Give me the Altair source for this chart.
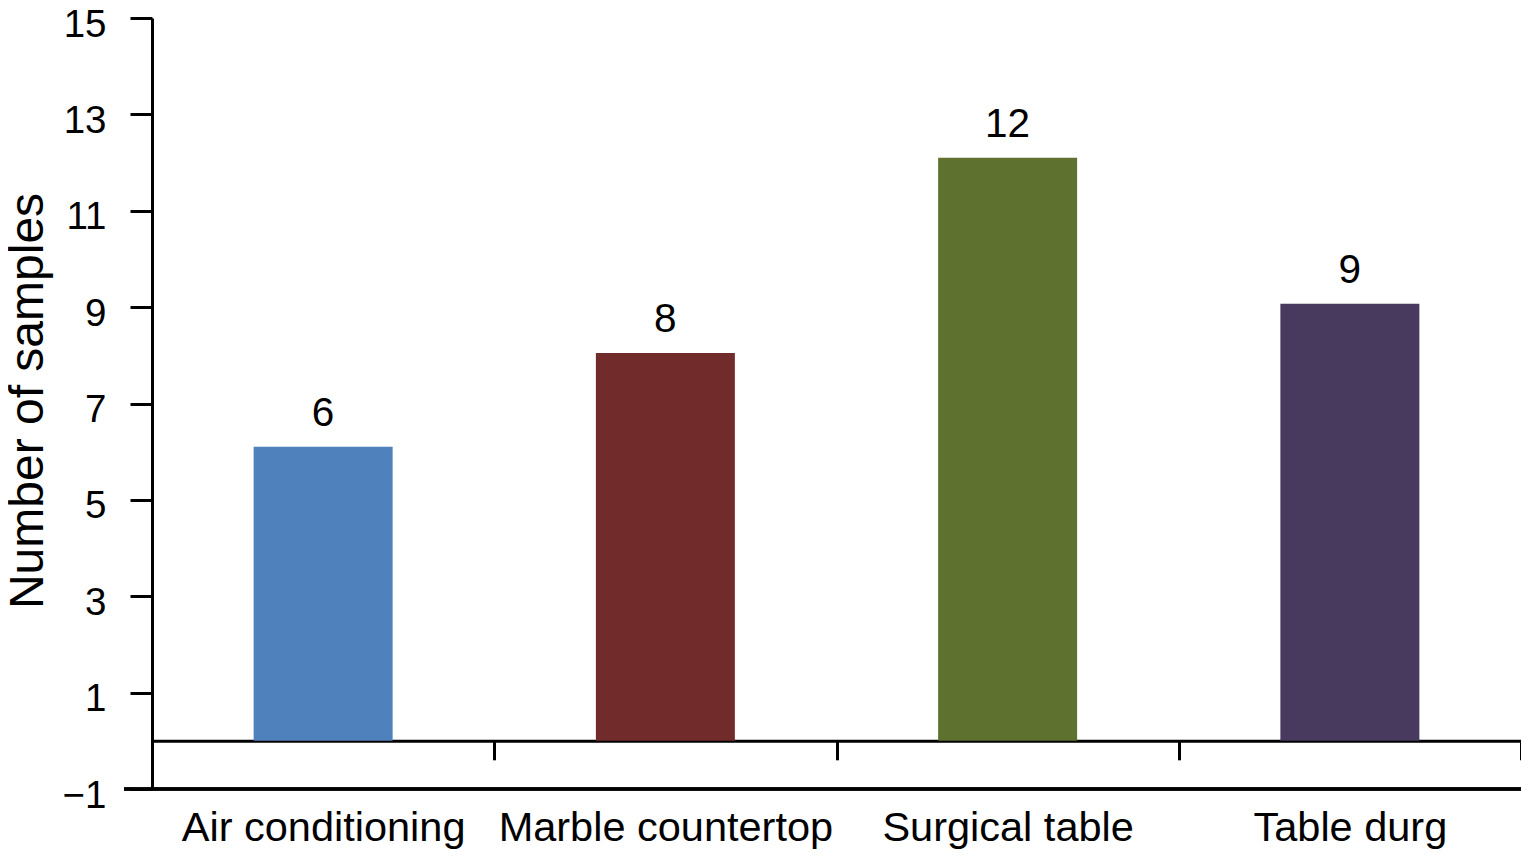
import altair as alt
import pandas as pd

categories = ["Air conditioning", "Marble countertop", "Surgical table", "Table durg"]
bar_values = [6.1, 8.05, 12.1, 9.07]
value_labels = ["6", "8", "12", "9"]
bar_colors = ["#4F81BD", "#722B2B", "#5E712F", "#483A5E"]
y_ticks = [-1, 1, 3, 5, 7, 9, 11, 13, 15]
y_domain = [-1, 15]

W, H = 1369, 771
FONT = "Liberation Sans"
unit_px = H / (y_domain[1] - y_domain[0])

df = pd.DataFrame({"cat": categories, "value": bar_values,
                   "label": value_labels, "color": bar_colors})

x_enc = alt.X(
    "cat:N", sort=categories,
    scale=alt.Scale(paddingInner=0, paddingOuter=0),
    axis=alt.Axis(
        title=None, orient="bottom", offset=-unit_px,
        domain=True, domainColor="black", domainWidth=3,
        ticks=True, tickBand="extent", tickSize=19, tickWidth=3, tickColor="black",
        labelFont=FONT, labelFontSize=41.5, labelColor="black", labelAngle=0,
        labelBaseline="alphabetic", labelPadding=81, labelLimit=0, grid=False,
    ),
)

y_enc = alt.Y(
    "value:Q",
    scale=alt.Scale(domain=y_domain, nice=False, zero=False),
    axis=alt.Axis(
        values=y_ticks, grid=False,
        domainColor="black", domainWidth=3,
        tickSize=22, tickWidth=3, tickColor="black",
        labelFont=FONT, labelFontSize=38.5, labelColor="black", labelPadding=24,
        labelBaseline="alphabetic", labelOffset=18,
        title="Number of samples", titleFont=FONT, titleFontSize=48,
        titleFontWeight="normal", titleColor="black",
        titleX=-109.5, titleY=H / 2 - 3, titleBaseline="alphabetic", titleAlign="center",
    ),
)

bars = alt.Chart(df).mark_bar(size=139).encode(
    x=x_enc, y=y_enc, y2=alt.datum(0),
    color=alt.Color("color:N", scale=None),
)

labels = alt.Chart(df).mark_text(
    baseline="alphabetic", dy=-21, fontSize=40.5, font=FONT, color="black"
).encode(x=x_enc, y=y_enc, text="label:N")

bottom_rule = alt.Chart(df).mark_rule(color="black", strokeWidth=3).encode(
    x=alt.value(-28), x2=alt.value(W + 4), y=alt.datum(-1)
)

chart = alt.layer(bars, labels, bottom_rule).properties(
    width=W, height=H,
    autosize=alt.AutoSizeParams(type="none"),
    padding={"left": 144, "top": 10, "right": 0, "bottom": 62},
).configure_view(stroke=None)

chart.save("out.html", embed_options={"renderer": "svg", "actions": False})
